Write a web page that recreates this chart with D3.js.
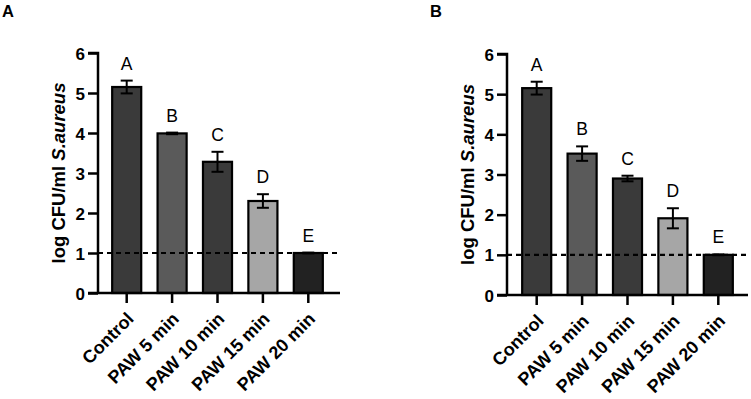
<!DOCTYPE html>
<html><head><meta charset="utf-8">
<script src="https://cdn.jsdelivr.net/npm/d3@7"></script>
<style>body{margin:0;background:#fff}svg{display:block}</style>
</head><body>
<svg id="c" width="751" height="399"></svg>
<script>
const categories = ["Control","PAW 5 min","PAW 10 min","PAW 15 min","PAW 20 min"];
const meansA = [5.15, 3.99, 3.28, 2.30, 1.00];
const errA   = [0.16, 0.02, 0.25, 0.17, 0.01];
const lettersA = ["A","B","C","D","E"];
const meansB = [5.15, 3.52, 2.90, 1.91, 1.00];
const errB   = [0.16, 0.18, 0.07, 0.25, 0.01];
const lettersB = ["A","B","C","D","E"];
const barColors = ["#3a3a3a","#5a5a5a","#3a3a3a","#a6a6a6","#222222"];
const yTicks = [0,1,2,3,4,5,6];
const limitValue = 1;

const svg = d3.select("#c");
const font = "Liberation Sans, Arial, sans-serif";

function panel(cfg){
  const g = svg.append("g");
  const y = d3.scaleLinear().domain([0,6]).range([cfg.y0, cfg.y6]);
  const x = d3.scaleBand().domain(categories).range([cfg.bandL, cfg.bandR]).padding(0);
  const bw = x.bandwidth()*0.64;
  const cx = d => x(d) + x.bandwidth()/2;

  g.selectAll("rect.bar").data(categories).join("rect")
    .attr("x", d => cx(d)-bw/2).attr("width", bw)
    .attr("y", (d,i) => y(cfg.means[i])).attr("height", (d,i) => y(0)-y(cfg.means[i]))
    .attr("fill", (d,i) => barColors[i]).attr("stroke","#000").attr("stroke-width",2.2);

  const eb = g.selectAll("g.eb").data(categories).join("g");
  eb.append("line").attr("x1", d=>cx(d)).attr("x2", d=>cx(d))
    .attr("y1",(d,i)=>y(cfg.means[i]+cfg.err[i])).attr("y2",(d,i)=>y(cfg.means[i]-cfg.err[i]))
    .attr("stroke","#000").attr("stroke-width",2);
  eb.append("line").attr("x1", d=>cx(d)-6).attr("x2", d=>cx(d)+6)
    .attr("y1",(d,i)=>y(cfg.means[i]+cfg.err[i])).attr("y2",(d,i)=>y(cfg.means[i]+cfg.err[i]))
    .attr("stroke","#000").attr("stroke-width",2);
  eb.append("line").attr("x1", d=>cx(d)-6).attr("x2", d=>cx(d)+6)
    .attr("y1",(d,i)=>y(cfg.means[i]-cfg.err[i])).attr("y2",(d,i)=>y(cfg.means[i]-cfg.err[i]))
    .attr("stroke","#000").attr("stroke-width",2);

  g.selectAll("text.let").data(categories).join("text")
    .attr("x", d=>cx(d)).attr("y",(d,i)=>y(cfg.means[i]+cfg.err[i])-11)
    .attr("text-anchor","middle").attr("font-family",font).attr("font-size",17.5)
    .attr("fill","#000").text((d,i)=>cfg.letters[i]);

  g.append("line").attr("x1", cfg.axisX).attr("x2", cfg.axisR)
    .attr("y1", y(limitValue)).attr("y2", y(limitValue))
    .attr("stroke","#000").attr("stroke-width",2.2).attr("stroke-dasharray","5,4");

  const ya = g.append("g").attr("transform",`translate(${cfg.axisX},0)`)
    .call(d3.axisLeft(y).tickValues(yTicks).tickFormat(d3.format("d")).tickSize(10).tickPadding(3));
  ya.select(".domain").attr("stroke-width",2.5).attr("d",`M-10,${cfg.y6}H0V${cfg.y0}`);
  ya.selectAll(".tick line").attr("stroke-width",2.5);
  ya.selectAll(".tick text").attr("font-family",font).attr("font-size",17).attr("font-weight","bold").attr("dy","0.36em");

  const xa = g.append("g").attr("transform",`translate(0,${cfg.y0})`)
    .call(d3.axisBottom(x).tickSize(10).tickSizeOuter(0).tickFormat(d=>d));
  xa.select(".domain").attr("stroke-width",2.5).attr("d",`M${cfg.axisX-10},0H${cfg.axisR}`);
  xa.selectAll(".tick line").attr("stroke-width",2.5);
  xa.selectAll(".tick text").attr("font-family",font).attr("font-size",18).attr("font-weight","bold")
    .attr("text-anchor","end").attr("dy",0).attr("y",0)
    .attr("transform","translate(8,27) rotate(-45)");

  g.append("text").attr("transform",`translate(${cfg.titleX},${(cfg.y0+cfg.y6)/2}) rotate(-90)`)
    .attr("text-anchor","middle").attr("font-family",font).attr("font-size",18.5).attr("font-weight","bold")
    .attr("fill","#000")
    .call(t=>{ t.append("tspan").text("log CFU/ml "); t.append("tspan").attr("font-style","italic").text("S.aureus"); });

  g.append("text").attr("x",cfg.labelX).attr("y",17).attr("font-family",font).attr("font-size",16.5)
    .attr("font-weight","bold").text(cfg.label);
}

panel({means:meansA, err:errA, letters:lettersA, y0:293, y6:53, bandL:104, bandR:331,
       axisX:98, axisR:340, titleX:65, labelX:2, label:"A"});
panel({means:meansB, err:errB, letters:lettersB, y0:295, y6:54, bandL:514, bandR:741,
       axisX:507, axisR:748, titleX:474, labelX:430, label:"B"});
</script>
</body></html>
